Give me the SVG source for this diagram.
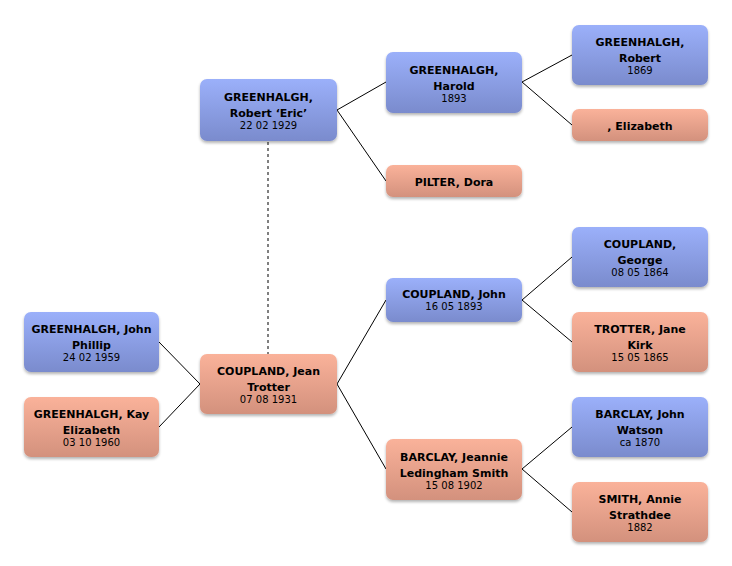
<svg xmlns="http://www.w3.org/2000/svg" width="732" height="566" viewBox="0 0 732 566">
<defs>
<linearGradient id="gm" x1="0" y1="0" x2="0" y2="1">
<stop offset="0" stop-color="#9bb0fa"/>
<stop offset="1" stop-color="#7a8bcd"/>
</linearGradient>
<linearGradient id="gf" x1="0" y1="0" x2="0" y2="1">
<stop offset="0" stop-color="#fab29a"/>
<stop offset="1" stop-color="#d3917d"/>
</linearGradient>
<filter id="sh" x="-10%" y="-10%" width="120%" height="130%">
<feGaussianBlur in="SourceAlpha" stdDeviation="1.5"/>
<feOffset dx="0" dy="2" result="b"/>
<feComponentTransfer><feFuncA type="linear" slope="0.3"/></feComponentTransfer>
<feMerge><feMergeNode/><feMergeNode in="SourceGraphic"/></feMerge>
</filter>
</defs>
<style>
.m{fill:url(#gm);filter:url(#sh)}
.f{fill:url(#gf);filter:url(#sh)}
text{font-family:"DejaVu Sans","Liberation Sans",sans-serif;text-anchor:middle;fill:#000}
.n{font-size:11px;font-weight:bold}
.d{font-size:10px}
.c line{stroke:#000;stroke-width:1}
.sp{stroke:#777;stroke-width:2;stroke-dasharray:3 3}
</style>
<rect width="732" height="566" fill="#fff"/>
<g class="c" id="connectors">
<line x1="337" y1="110" x2="386" y2="82"/>
<line x1="337" y1="110" x2="386" y2="181"/>
<line x1="522" y1="82" x2="572" y2="55"/>
<line x1="522" y1="82" x2="572" y2="125"/>
<line x1="337" y1="384" x2="386" y2="300"/>
<line x1="337" y1="384" x2="386" y2="469"/>
<line x1="522" y1="300" x2="572" y2="257"/>
<line x1="522" y1="300" x2="572" y2="342"/>
<line x1="522" y1="469" x2="572" y2="427"/>
<line x1="522" y1="469" x2="572" y2="512"/>
<line x1="159" y1="342" x2="200" y2="384"/>
<line x1="159" y1="427" x2="200" y2="384"/>
<line class="sp" x1="268" y1="142" x2="268" y2="354"/>
</g>
<g id="robert-eric">
<rect class="m" x="200" y="79" width="137" height="62" rx="7"/>
<text class="n" x="268.5" y="101">GREENHALGH,</text>
<text class="n" x="268.5" y="117">Robert ‘Eric’</text>
<text class="d" x="268.5" y="129">22 02 1929</text>
</g>
<g id="jean">
<rect class="f" x="200" y="354" width="137" height="60" rx="7"/>
<text class="n" x="268.5" y="375">COUPLAND, Jean</text>
<text class="n" x="268.5" y="391">Trotter</text>
<text class="d" x="268.5" y="403">07 08 1931</text>
</g>
<g id="john-phillip">
<rect class="m" x="24" y="312" width="135" height="60" rx="7"/>
<text class="n" x="91.5" y="333">GREENHALGH, John</text>
<text class="n" x="91.5" y="349">Phillip</text>
<text class="d" x="91.5" y="361">24 02 1959</text>
</g>
<g id="kay">
<rect class="f" x="24" y="397" width="135" height="60" rx="7"/>
<text class="n" x="91.5" y="418">GREENHALGH, Kay</text>
<text class="n" x="91.5" y="434">Elizabeth</text>
<text class="d" x="91.5" y="446">03 10 1960</text>
</g>
<g id="harold">
<rect class="m" x="386" y="52" width="136" height="61" rx="7"/>
<text class="n" x="454" y="73.5">GREENHALGH,</text>
<text class="n" x="454" y="89.5">Harold</text>
<text class="d" x="454" y="101.5">1893</text>
</g>
<g id="dora">
<rect class="f" x="386" y="165" width="136" height="32" rx="7"/>
<text class="n" x="454" y="186">PILTER, Dora</text>
</g>
<g id="robert-1869">
<rect class="m" x="572" y="25" width="136" height="60" rx="7"/>
<text class="n" x="640" y="46">GREENHALGH,</text>
<text class="n" x="640" y="62">Robert</text>
<text class="d" x="640" y="74">1869</text>
</g>
<g id="elizabeth">
<rect class="f" x="572" y="109" width="136" height="32" rx="7"/>
<text class="n" x="640" y="130">, Elizabeth</text>
</g>
<g id="john-coupland">
<rect class="m" x="386" y="278" width="136" height="44" rx="7"/>
<text class="n" x="454" y="298">COUPLAND, John</text>
<text class="d" x="454" y="310">16 05 1893</text>
</g>
<g id="george">
<rect class="m" x="572" y="227" width="136" height="60" rx="7"/>
<text class="n" x="640" y="248">COUPLAND,</text>
<text class="n" x="640" y="264">George</text>
<text class="d" x="640" y="276">08 05 1864</text>
</g>
<g id="jane">
<rect class="f" x="572" y="312" width="136" height="60" rx="7"/>
<text class="n" x="640" y="333">TROTTER, Jane</text>
<text class="n" x="640" y="349">Kirk</text>
<text class="d" x="640" y="361">15 05 1865</text>
</g>
<g id="jeannie">
<rect class="f" x="386" y="439" width="136" height="61" rx="7"/>
<text class="n" x="454" y="460.5">BARCLAY, Jeannie</text>
<text class="n" x="454" y="476.5">Ledingham Smith</text>
<text class="d" x="454" y="488.5">15 08 1902</text>
</g>
<g id="john-watson">
<rect class="m" x="572" y="397" width="136" height="60" rx="7"/>
<text class="n" x="640" y="418">BARCLAY, John</text>
<text class="n" x="640" y="434">Watson</text>
<text class="d" x="640" y="446">ca 1870</text>
</g>
<g id="annie">
<rect class="f" x="572" y="482" width="136" height="60" rx="7"/>
<text class="n" x="640" y="503">SMITH, Annie</text>
<text class="n" x="640" y="519">Strathdee</text>
<text class="d" x="640" y="531">1882</text>
</g>
</svg>
